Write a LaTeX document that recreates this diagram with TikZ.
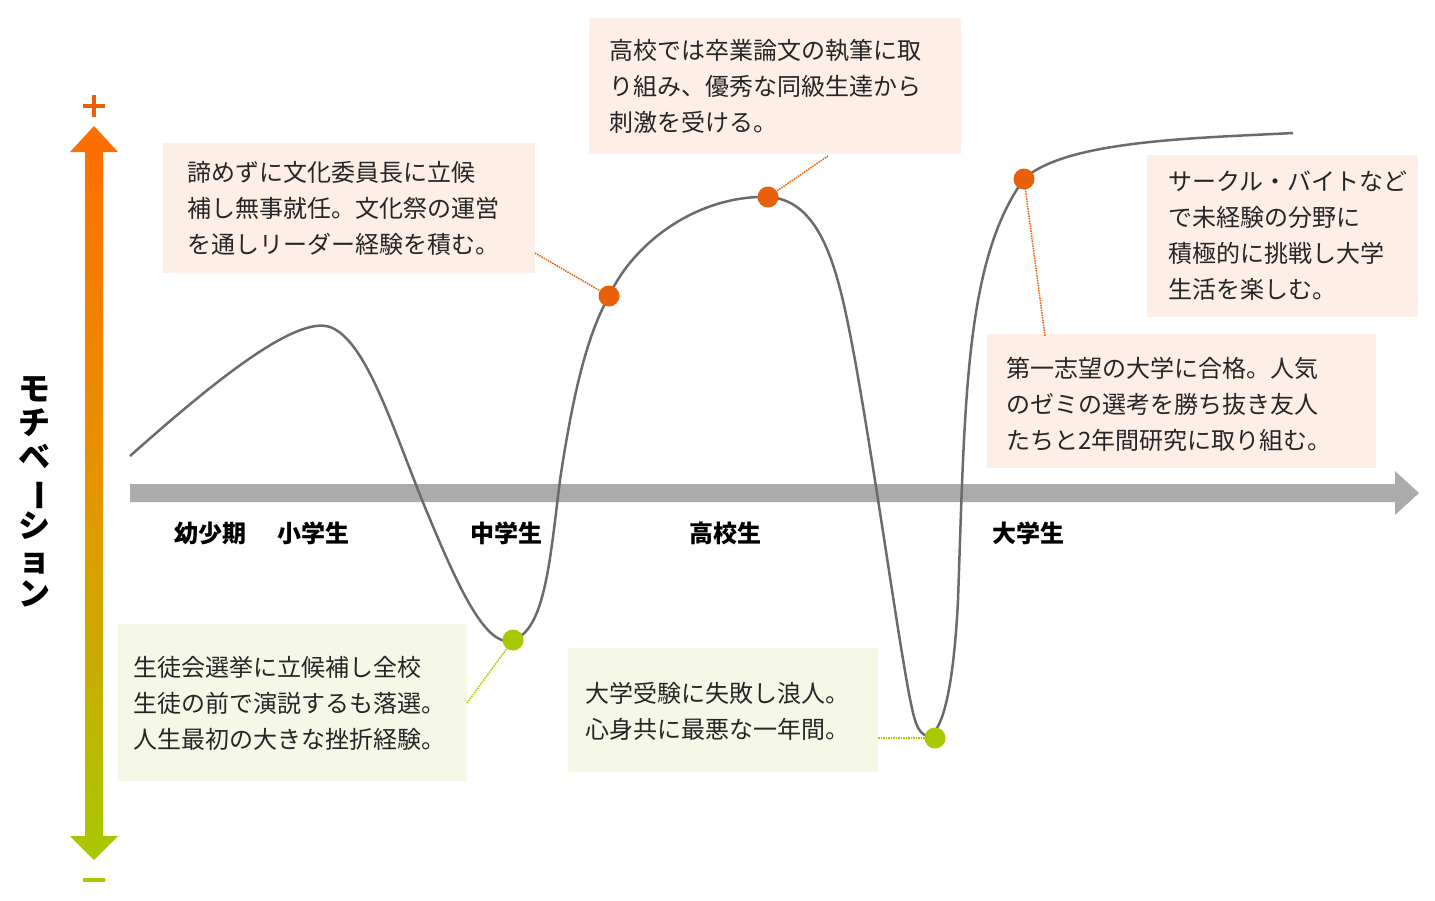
\documentclass[tikz,border=0pt]{standalone}
\usepackage{fontspec}
\setmainfont{Noto Sans CJK JP}
\usetikzlibrary{arrows.meta}
\definecolor{org}{HTML}{E8600A}
\definecolor{grn}{HTML}{A8C800}
\definecolor{obox}{HTML}{FDEEE6}
\definecolor{gbox}{HTML}{F5F8E6}
\definecolor{axg}{HTML}{ABABAB}
\definecolor{crv}{HTML}{6B6B6B}
\begin{document}
\begin{tikzpicture}[x=1pt,y=-1pt,
  note/.style={font=\fontsize{24}{36}\selectfont, text=black!85, align=left, anchor=west, inner sep=0},
  lab/.style={font=\fontsize{24}{26}\selectfont\bfseries},
  odot/.style={circle, fill=org, minimum size=21pt, inner sep=0},
  gdot/.style={circle, fill=grn, minimum size=21pt, inner sep=0},
  olead/.style={org, densely dotted, line width=1.5pt},
  glead/.style={grn, densely dotted, line width=1.5pt}]
\useasboundingbox (0,0) rectangle (1435,900);
% vertical gradient arrow
\shade[top color=orange!85!red, bottom color=grn, middle color=orange!70!grn]
  (94,126) -- (118,152) -- (103,152) -- (103,836) -- (118,836) -- (94,860) -- (70,836) -- (85,836) -- (85,152) -- (70,152) -- cycle;
\draw[org, line width=3.5] (83,106) -- (105,106) (94,95) -- (94,117);
\draw[grn, line width=3.5] (83,880) -- (105,880);
\node[font=\fontsize{32}{34}\selectfont\bfseries, align=center] (mot) at (35,492)
 {モ\\チ\\ベ\\\rotatebox[origin=c]{-90}{ー}\\シ\\ョ\\ン};
% horizontal axis
\fill[axg] (130,484) -- (1395,484) -- (1395,471) -- (1419,493) -- (1395,515) -- (1395,502) -- (130,502) -- cycle;
\node[lab] (l1) at (210,533) {幼少期};
\node[lab] (l2) at (313,533) {小学生};
\node[lab] (l3) at (506,533) {中学生};
\node[lab] (l4) at (725,533) {高校生};
\node[lab] (l5) at (1028,533) {大学生};
% boxes
\fill[obox] (163,143) rectangle (535,273);
\node[note] (t1) at (187,208) {諦めずに文化委員長に立候\\補し無事就任。文化祭の運営\\を通しリーダー経験を積む。};
\fill[obox] (589,18) rectangle (961,154);
\node[note] (t2) at (609,86) {高校では卒業論文の執筆に取\\り組み、優秀な同級生達から\\刺激を受ける。};
\fill[obox] (1147,155) rectangle (1418,317);
\node[note] (t3) at (1168,236) {サークル・バイトなど\\で未経験の分野に\\積極的に挑戦し大学\\生活を楽しむ。};
\fill[obox] (987,334) rectangle (1376,468);
\node[note] (t4) at (1006,404) {第一志望の大学に合格。人気\\のゼミの選考を勝ち抜き友人\\たちと2年間研究に取り組む。};
\fill[gbox] (118,624) rectangle (467,781);
\node[note] (t5) at (133,703) {生徒会選挙に立候補し全校\\生徒の前で演説するも落選。\\人生最初の大きな挫折経験。};
\fill[gbox] (568,648) rectangle (878,772);
\node[note] (t6) at (585,711) {大学受験に失敗し浪人。\\心身共に最悪な一年間。};
% curve
\coordinate (d1) at (513,640);
\coordinate (d2) at (609,296);
\coordinate (d3) at (768,197);
\coordinate (d4) at (935,738);
\coordinate (d5) at (1024,179);
\draw[crv, line width=2.5pt] (130,456) .. controls (210,385) and (295,315) .. (330,327)
  .. controls (365,340) and (390,420) .. (422,500)
  .. controls (455,580) and (485,650) .. (d1)
  .. controls (545,630) and (550,560) .. (560,480)
  .. controls (575,380) and (590,330) .. (d2)
  .. controls (635,240) and (700,195) .. (d3)
  .. controls (825,200) and (840,280) .. (855,360)
  .. controls (880,500) and (905,690) .. (915,720)
  .. controls (922,745) and (950,760) .. (958,600)
  .. controls (965,400) and (965,260) .. (d5)
  .. controls (1065,140) and (1200,138) .. (1293,133);
% leaders
\coordinate (e1) at (535,253);
\coordinate (e2) at (828,156);
\coordinate (e4) at (1045,336);
\coordinate (e5) at (467,703);
\coordinate (e6) at (878,738);
\draw[olead] (e1) -- (d2);
\draw[olead] (e2) -- (d3);
\draw[olead] (e4) -- (d5);
\draw[glead] (e5) -- (d1);
\draw[glead] (e6) -- (d4);
\node[odot] (n2) at (d2) {};
\node[odot] (n3) at (d3) {};
\node[odot] (n5) at (d5) {};
\node[gdot] (n1) at (d1) {};
\node[gdot] (n4) at (d4) {};
\end{tikzpicture}
\end{document}
